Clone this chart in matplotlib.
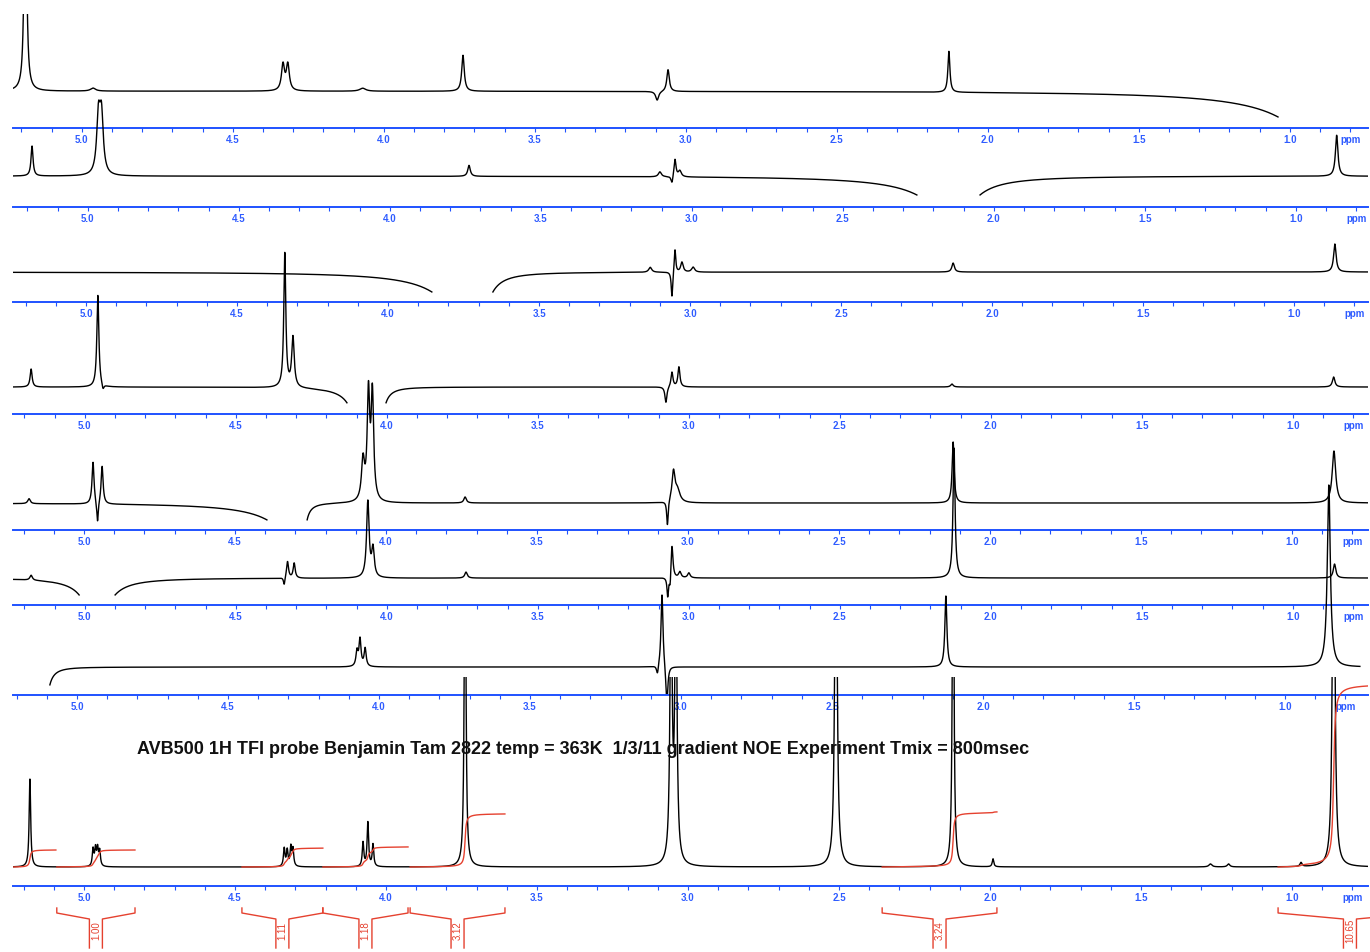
import numpy as np
import matplotlib
matplotlib.use("Agg")
import matplotlib.pyplot as plt

# ---- data: peaks as (ppm, height, half width) ----
PEAKS_1 = [(5.187, 300, 0.004), (4.963, 3, 0.010), (4.334, 26, 0.006), (4.318, 26, 0.006),
           (4.07, 3, 0.012), (3.738, 36, 0.005), (3.095, -9, 0.006), (3.059, 22, 0.005),
           (2.129, 41, 0.004)]
PEAKS_2 = [(5.185, 30, 0.004), (4.965, 56, 0.007), (4.955, 56, 0.007), (3.738, 11, 0.005),
           (3.106, 5, 0.006), (3.066, -8, 0.004), (3.056, 18, 0.004), (3.040, 6, 0.006),
           (0.865, 41, 0.005)]
PEAKS_3 = [(3.132, 5, 0.006), (3.060, -26, 0.003), (3.050, 24, 0.003), (3.027, 10, 0.005),
           (2.990, 5, 0.006), (2.129, 9, 0.005), (0.865, 28, 0.005)]
PEAKS_4 = [(5.178, 18, 0.004), (4.957, 92, 0.004), (4.940, -6, 0.004), (4.338, 134, 0.004),
           (4.311, 50, 0.005), (3.076, -16, 0.004), (3.056, 15, 0.004), (3.033, 20, 0.004),
           (2.129, 3, 0.005), (0.865, 10, 0.005)]
PEAKS_5 = [(5.182, 5, 0.005), (4.970, 42, 0.004), (4.955, -22, 0.003), (4.940, 38, 0.004),
           (4.076, 40, 0.006), (4.058, 105, 0.005), (4.045, 105, 0.005), (3.738, 6, 0.005),
           (3.068, -25, 0.003), (3.048, 30, 0.006), (3.035, 12, 0.010), (2.122, 61, 0.004),
           (0.861, 52, 0.007)]
PEAKS_6 = [(5.178, 5, 0.005), (4.340, -8, 0.003), (4.329, 17, 0.004), (4.307, 15, 0.004),
           (4.063, 76, 0.005), (4.046, 28, 0.005), (3.738, 6, 0.005), (3.070, -20, 0.003),
           (3.062, -14, 0.003), (3.056, 35, 0.004), (3.030, 6, 0.005), (3.000, 5, 0.005),
           (2.122, 130, 0.004), (0.862, 14, 0.005)]
PEAKS_7 = [(4.073, 15, 0.004), (4.063, 27, 0.004), (4.046, 18, 0.004), (3.078, -10, 0.004),
           (3.063, 75, 0.004), (3.047, -40, 0.004), (2.123, 71, 0.004), (0.855, 182, 0.006)]
PEAKS_8 = [(5.179, 88, 0.003), (4.970, 17, 0.003), (4.962, 17, 0.003), (4.955, 17, 0.003),
           (4.948, 15, 0.003), (4.337, 18, 0.003), (4.327, 16, 0.003), (4.315, 19, 0.003),
           (4.308, 17, 0.003), (4.076, 24, 0.003), (4.060, 44, 0.003), (4.043, 22, 0.003),
           (3.738, 400, 0.003), (3.056, 300, 0.004), (3.040, 300, 0.004), (2.510, 450, 0.004),
           (2.122, 400, 0.003), (1.990, 8, 0.003), (1.270, 3, 0.006), (1.210, 3, 0.005),
           (0.970, 4, 0.004), (0.862, 500, 0.004)]
PEAKS = [PEAKS_1, PEAKS_2, PEAKS_3, PEAKS_4, PEAKS_5, PEAKS_6, PEAKS_7, PEAKS_8]

# cut-out (irradiated) regions: (left ppm, right ppm, dip at edges, curl width left, curl width right)
GAPS = [[(1.039, 0.640, 26, 0.32, 0.10)],
        [(2.255, 2.046, 19, 0.24, 0.15)],
        [(3.855, 3.653, 20, 0.21, 0.074)],
        [(4.132, 4.003, 16, 0.07, 0.035)],
        [(4.394, 4.261, 17, 0.20, 0.025)],
        [(5.019, 4.900, 17, 0.09, 0.10)],
        [(5.300, 5.090, 18, 0.03, 0.03)],
        []]
TRACE_END = [None, None, None, None, None, None, 0.752, None]

# integrals of the bottom spectrum
INT_LEFT = [5.235, 5.090, 4.477, 4.209, 3.920, 2.357, 1.046]
INT_RIGHT = [5.093, 4.831, 4.209, 3.927, 3.606, 1.977, 0.570]
INT_VALUES = [1.00, 1.00, 1.11, 1.18, 3.12, 3.24, 10.65]
INT_LABELS = [None, "1.00", "1.11", "1.18", "3.12", "3.24", "10.65"]

TICK_PPM = [5.0, 4.5, 4.0, 3.5, 3.0, 2.5, 2.0, 1.5, 1.0, 0.8]
TICK_TXT = ["5.0", "4.5", "4.0", "3.5", "3.0", "2.5", "2.0", "1.5", "1.0", "ppm"]

TITLE = "AVB500 1H TFI probe Benjamin Tam 2822 temp = 363K  1/3/11 gradient NOE Experiment Tmix = 800msec"

# ---- layout (pixels) ----
W, H = 1370, 952
AXIS_Y = [128, 207, 302, 414, 530, 605, 695, 886]
TOP_Y = [14, 0, 0, 0, 0, 0, 0, 677]
BASE = [37, 31, 30, 27, 27, 27, 28, 19]
PPM_LEFT = [5.228, 5.248, 5.242, 5.238, 5.235, 5.238, 5.212, 5.235]
X0, X1 = 13, 1368
PX_PER_PPM = 302.0
INT_SCALE = 17.0

BLUE = "#1f52ff"
BLUE_TXT = "#2f5cff"
RED = "#e5412f"

plt.rcParams['font.family'] = ['Liberation Sans', 'DejaVu Sans']


def spectrum(ppm, peaks, gaps, base):
    y = np.full(ppm.shape, float(base))
    for c, h, w in peaks:
        y += h * w ** 2 / ((ppm - c) ** 2 + w ** 2)
    for lo, hi, depth, wl, wr in gaps:
        upper = ppm >= lo
        lower = ppm <= hi
        y[upper] -= depth * (wl / (ppm[upper] - lo + wl)) ** 2
        y[lower] -= depth * (wr / (hi - ppm[lower] + wr)) ** 2
        y[~upper & ~lower] = np.nan
    return y


fig = plt.figure(figsize=(W / 100, H / 100), dpi=100)

for i in range(8):
    hpx = AXIS_Y[i] - TOP_Y[i]
    ax = fig.add_axes([X0 / W, 1 - AXIS_Y[i] / H, (X1 - X0) / W, hpx / H])
    ax.patch.set_visible(False)
    left = PPM_LEFT[i]
    right = left - (X1 - X0) / PX_PER_PPM
    ax.set_xlim(left, right)
    ax.set_ylim(0, hpx)

    ppm = np.linspace(left, right, 14000)
    y = spectrum(ppm, PEAKS[i], GAPS[i], BASE[i])
    if TRACE_END[i] is not None:
        y[ppm < TRACE_END[i]] = np.nan
    ax.plot(ppm, y, color="black", lw=1.0)

    for s in ["top", "left", "right"]:
        ax.spines[s].set_visible(False)
    ax.spines["bottom"].set_color(BLUE)
    ax.spines["bottom"].set_linewidth(1.4)
    ax.set_yticks([])
    ax.set_xticks(TICK_PPM)
    ax.set_xticklabels(TICK_TXT)
    ax.set_xticks(np.arange(0.8, 5.25, 0.1), minor=True)
    ax.tick_params(axis="x", which="both", direction="out", length=3.2, width=0.8,
                   color=BLUE, pad=2.0)
    ax.tick_params(axis="x", which="major", labelsize=7, labelcolor=BLUE_TXT)
    for lab in ax.get_xticklabels():
        lab.set_fontweight("bold")

    if i == 7:
        base = BASE[i]
        for lo, hi, val, txt in zip(INT_LEFT, INT_RIGHT, INT_VALUES, INT_LABELS):
            m = (ppm <= lo) & (ppm >= hi)
            seg = np.clip(spectrum(ppm[m], PEAKS_8, [], 0), 0, None)
            cum = np.cumsum(seg)
            cum = cum / cum[-1] * val * INT_SCALE
            ax.plot(ppm[m], base + cum, color=RED, lw=1.0)
            if txt is None:
                continue
            c = (lo + hi) / 2
            d = 6.5 / PX_PER_PPM
            kw = dict(color=RED, lw=1.0, clip_on=False)
            ax.plot([lo, lo, c + d, c + d], [-22, -27, -33, -62], **kw)
            ax.plot([hi, hi, c - d, c - d], [-22, -27, -33, -62], **kw)
            ax.text(c, -45, txt, rotation=90, ha="center", va="center", fontsize=7,
                    color=RED, clip_on=False)

fig.text(137 / W, 1 - 750 / H, TITLE, ha="left", va="center", fontsize=13.0,
         fontweight="bold", color="#111111")

fig.savefig("out.png", dpi=100)
